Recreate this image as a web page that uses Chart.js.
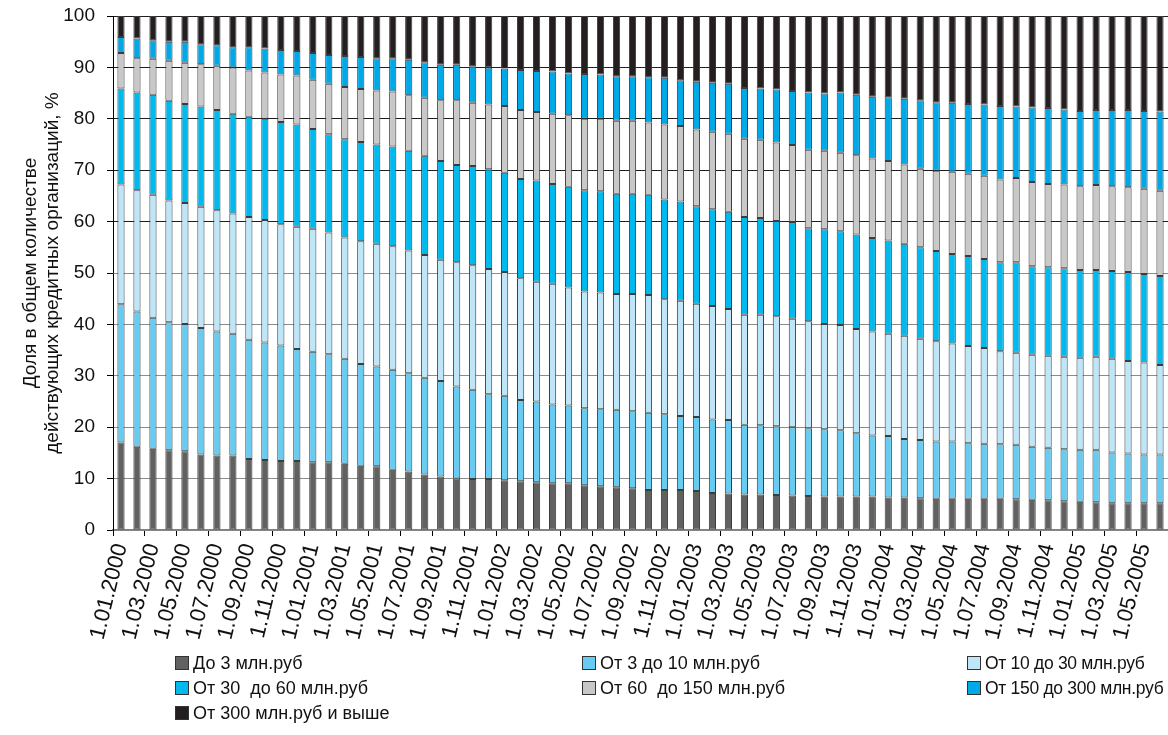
<!DOCTYPE html>
<html>
<head>
<meta charset="utf-8">
<script src="https://cdn.jsdelivr.net/npm/chart.js@4.4.1/dist/chart.umd.min.js"></script>
<style>
  body { margin: 0; background: #fff; }
  #wrap { position: relative; width: 1168px; height: 735px; }
  #legend {
    position: absolute; left: 175px; top: 652px;
    display: grid; grid-template-columns: 407px 385px 200px; row-gap: 3px;
    font-family: "Liberation Sans", Arial, sans-serif; font-size: 18px; color: #111;
  }
  .item { display: flex; align-items: center; height: 22px; white-space: pre; }
  .item.narrow { font-size: 17.5px; letter-spacing: -0.3px; }
  .box { flex: 0 0 auto; width: 12px; height: 12px; border: 1px solid #333; margin-right: 4px; }
</style>
</head>
<body>
<div id="wrap">
  <canvas id="myChart"></canvas>
  <div id="legend"></div>
</div>
<script>
// месяцы: 1.01.2000 ... 1.06.2005
const labels = [
  '1.01.2000','1.02.2000','1.03.2000','1.04.2000','1.05.2000','1.06.2000','1.07.2000','1.08.2000','1.09.2000','1.10.2000','1.11.2000','1.12.2000',
  '1.01.2001','1.02.2001','1.03.2001','1.04.2001','1.05.2001','1.06.2001','1.07.2001','1.08.2001','1.09.2001','1.10.2001','1.11.2001','1.12.2001',
  '1.01.2002','1.02.2002','1.03.2002','1.04.2002','1.05.2002','1.06.2002','1.07.2002','1.08.2002','1.09.2002','1.10.2002','1.11.2002','1.12.2002',
  '1.01.2003','1.02.2003','1.03.2003','1.04.2003','1.05.2003','1.06.2003','1.07.2003','1.08.2003','1.09.2003','1.10.2003','1.11.2003','1.12.2003',
  '1.01.2004','1.02.2004','1.03.2004','1.04.2004','1.05.2004','1.06.2004','1.07.2004','1.08.2004','1.09.2004','1.10.2004','1.11.2004','1.12.2004',
  '1.01.2005','1.02.2005','1.03.2005','1.04.2005','1.05.2005','1.06.2005'
];

const seriesNames = [
  'До 3 млн.руб', 'От 3 до 10 млн.руб', 'От 10 до 30 млн.руб',
  'От 30  до 60 млн.руб', 'От 60  до 150 млн.руб', 'От 150 до 300 млн.руб',
  'От 300 млн.руб и выше'
];
const seriesColors = ['#616161', '#66ccf2', '#bde6f8', '#00b9ee', '#c8c8c8', '#00a8e8', '#231f20'];

const upTo3 = [
  17.0,16.2,15.8,15.5,15.3,14.7,14.5,14.5,13.8,13.6,13.4,13.4,13.2,13.2,12.9,12.5,12.4,11.7,11.4,10.8,10.4,10.0,
  9.9,9.9,9.7,9.5,9.3,9.1,9.1,8.7,8.5,8.3,8.1,7.8,7.8,7.8,7.6,7.2,7.1,6.9,6.9,6.8,6.7,6.6,
  6.5,6.5,6.5,6.5,6.3,6.3,6.2,6.1,6.1,6.1,6.1,6.1,6.0,5.9,5.8,5.6,5.5,5.4,5.2,5.2,5.2,5.2
];
const from3to10 = [
  26.9,26.3,25.5,24.9,24.8,24.6,24.1,23.7,23.2,22.9,22.5,21.8,21.5,21.0,20.4,19.8,19.4,19.5,19.1,18.8,18.6,17.9,
  17.4,16.5,16.4,15.8,15.7,15.3,15.1,15.0,15.0,15.1,15.0,15.0,14.7,14.4,14.4,14.3,14.3,13.6,13.5,13.4,13.3,13.2,
  13.1,12.9,12.3,11.9,12.0,11.4,11.3,11.1,11.1,10.8,10.7,10.6,10.6,10.3,10.2,10.1,10.1,10.2,9.9,9.7,9.5,9.5
];
const from10to30 = [
  23.3,23.6,23.9,23.7,23.5,23.6,23.6,23.4,23.9,23.8,23.6,23.8,23.9,23.7,23.6,23.9,23.9,24.0,23.9,23.9,23.6,24.2,
  24.2,24.4,24.1,23.7,23.3,23.5,23.0,22.7,22.7,22.5,22.8,22.9,22.4,22.4,22.0,22.1,21.6,21.4,21.5,21.4,21.1,20.8,
  20.5,20.5,20.3,20.2,19.9,20.1,19.7,19.5,19.1,18.9,18.6,18.1,17.9,17.9,17.9,18.0,17.9,18.1,18.2,18.0,17.9,17.4
];
const from30to60 = [
  18.7,19.0,19.5,19.4,19.3,19.5,19.5,19.4,19.5,19.7,19.9,19.9,19.4,19.1,19.1,19.3,19.3,19.4,19.4,19.3,19.2,18.9,
  19.3,19.4,19.3,19.3,19.7,19.4,19.6,19.7,19.7,19.5,19.5,19.5,19.4,19.3,19.0,18.8,18.9,19.0,18.8,18.5,18.8,18.1,
  18.4,18.2,18.4,18.2,18.1,17.9,17.8,17.6,17.4,17.5,17.3,17.3,17.6,17.2,17.2,17.2,17.1,16.9,17.1,17.3,17.2,17.3
];
const from60to150 = [
  6.9,6.7,7.0,7.8,8.0,8.2,8.6,9.0,9.0,9.0,9.2,9.5,9.6,9.8,10.2,10.3,10.5,10.7,10.8,11.3,11.8,12.6,
  12.3,12.6,13.0,13.4,13.3,13.7,13.9,13.9,14.1,14.2,14.2,14.1,14.6,14.7,14.9,15.1,15.2,15.2,15.2,15.3,15.0,15.3,
  15.3,15.3,15.4,15.5,15.5,15.4,15.3,15.6,16.0,16.0,16.2,16.1,16.4,16.4,16.2,16.3,16.3,16.5,16.5,16.5,16.6,16.6
];
const from150to300 = [
  3.1,3.8,3.6,3.7,4.1,3.9,4.0,3.9,4.5,4.7,4.8,4.8,5.2,5.6,6.0,6.2,6.3,6.5,6.9,6.9,6.9,6.9,
  7.1,7.2,7.3,7.8,8.0,8.2,8.1,8.7,8.6,8.7,8.7,8.8,9.1,8.9,9.3,9.5,9.7,9.9,10.0,10.3,10.5,11.1,
  11.1,11.7,11.8,12.0,12.4,12.8,13.3,13.3,13.4,13.6,13.9,14.3,13.9,14.5,14.8,14.6,14.6,14.6,14.8,15.0,15.1,15.4
];
const over300 = [
  4.1,4.4,4.7,5.0,5.0,5.5,5.7,6.1,6.1,6.3,6.6,6.8,7.2,7.6,7.8,8.0,8.2,8.2,8.5,9.0,9.5,9.5,
  9.8,10.0,10.2,10.5,10.7,10.8,11.2,11.3,11.4,11.7,11.7,11.9,12.0,12.5,12.8,13.0,13.2,14.0,14.1,14.3,14.6,14.9,
  15.1,14.9,15.3,15.7,15.8,16.1,16.4,16.8,16.9,17.1,17.2,17.5,17.6,17.8,17.9,18.2,18.5,18.3,18.3,18.3,18.5,18.6
];

const yTitle = ['Доля в общем количестве', 'действующих кредитных организаций, %'];
const FONT = '"Liberation Sans", Arial, sans-serif';

const seriesData = [upTo3, from3to10, from10to30, from30to60, from60to150, from150to300, over300];

const datasets = seriesData.map((d, i) => ({
    label: seriesNames[i],
    data: d,
    backgroundColor: seriesColors[i],
    borderColor: '#3c3c3c',
    borderWidth: 1,
    borderSkipped: false,
    categoryPercentage: 1.0,
    barPercentage: 0.45,
}));

// легенда в три колонки, как в оригинале
const legendEl = document.getElementById('legend');
seriesNames.forEach((name, i) => {
    const item = document.createElement('div');
    item.className = i % 3 === 2 ? 'item narrow' : 'item';
    item.innerHTML = '<span class="box" style="background:' + seriesColors[i] + '"></span>' + name;
    legendEl.appendChild(item);
});

const ctx = document.getElementById('myChart').getContext('2d');
new Chart(ctx, {
    type: 'bar',
    data: { labels: labels, datasets: datasets },
    options: {
        responsive: true,
        maintainAspectRatio: false,
        animation: false,
        layout: { padding: { top: 16, left: 0, right: 0, bottom: 0 } },
        plugins: {
            legend: { display: false },
            tooltip: { enabled: false },
        },
        scales: {
            x: {
                stacked: true,
                offset: true,
                afterFit: (scale) => {
                    scale.height = 205;
                    scale.paddingLeft = 0;
                    scale.paddingRight = 0;
                },
                grid: {
                    offset: true,
                    drawOnChartArea: false,
                    drawTicks: true,
                    tickLength: 6,
                    tickWidth: 1,
                    tickColor: (c) => (c.index % 2 === 0 ? '#000' : 'rgba(0,0,0,0)'),
                },
                border: { color: '#808080', width: 1.5 },
                ticks: {
                    autoSkip: false,
                    minRotation: 76,
                    maxRotation: 76,
                    padding: 5,
                    color: '#111',
                    font: { family: FONT, size: 22 },
                    callback: (val, i) => (i % 2 === 0 ? labels[i] : ''),
                },
            },
            y: {
                stacked: true,
                min: 0,
                max: 100,
                afterFit: (scale) => {
                    scale.width = 113;
                    scale.paddingTop = 0;
                    scale.paddingBottom = 0;
                },
                grid: {
                    color: (c) => (c.tick && c.tick.value >= 60 ? '#1e1e1e' : '#8c8c8c'),
                    lineWidth: 1,
                    tickLength: 6,
                    tickColor: '#000',
                },
                border: { color: '#000', width: 1 },
                ticks: {
                    stepSize: 10,
                    padding: 12,
                    color: '#111',
                    font: { family: FONT, size: 19 },
                },
                title: {
                    display: true,
                    text: yTitle,
                    color: '#111',
                    padding: { top: 19, bottom: 0 },
                    font: { family: FONT, size: 19 },
                },
            },
        },
    },
});
</script>
</body>
</html>
